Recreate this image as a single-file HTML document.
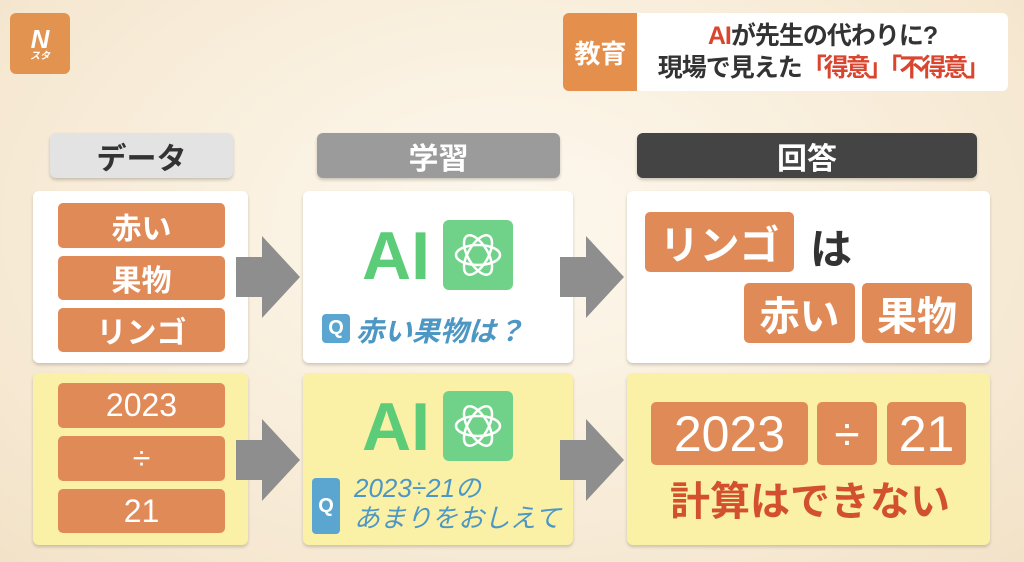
<!DOCTYPE html>
<html><head><meta charset="utf-8"><style>
*{margin:0;padding:0;box-sizing:border-box}
body{width:1024px;height:562px;overflow:hidden;position:relative;background:radial-gradient(ellipse at 50% 40%,#fdf8ee 0%,#f8ecd8 60%,#f2e2c8 100%);font-family:"Liberation Sans","Noto Sans CJK JP",sans-serif}
.a{position:absolute}
.c{display:flex;align-items:center;justify-content:center}
.hd{border-radius:6px;font-size:30px;font-weight:bold;box-shadow:0 2px 3px rgba(0,0,0,.2)}
.bx{border-radius:6px;box-shadow:0 2px 3px rgba(0,0,0,.18)}
.p{background:#e08a58;color:#fff;border-radius:5px;font-weight:bold}
.ai{color:#5ccc78;font-weight:bold;font-size:68px;line-height:1}
.ic{background:#6fd288;border-radius:6px}
.q{background:#5aa6d1;color:#fff;border-radius:4px;font-weight:bold;font-size:20px}
.qt{color:#4d97c4;font-style:italic;font-weight:bold}
</style></head><body>
<div class="a c" style="left:10px;top:13px;width:60px;height:61px;background:#e39350;border-radius:6px;color:#fff;font-weight:bold;font-style:italic;flex-direction:column;line-height:1"><span style="font-size:26px">N</span><span style="font-size:10px">スタ</span></div>
<div class="a c" style="left:563px;top:13px;width:75px;height:78px;background:#e58f4d;border-radius:6px 0 0 6px;color:#fff;font-size:26px;font-weight:bold">教育</div>
<div class="a c" style="left:637px;top:13px;width:371px;height:78px;background:#fff;border-radius:0 6px 6px 0;flex-direction:column;font-size:25px;font-weight:bold;color:#333;line-height:1.3;white-space:nowrap;letter-spacing:-1px">
<div><span style="color:#d9452e">AI</span>が先生の代わりに?</div>
<div>現場で見えた<span style="color:#d9452e;letter-spacing:-3px">「得意」「不得意」</span></div></div>

<div class="a c hd" style="left:50px;top:133px;width:183px;height:45px;background:#e3e3e3;color:#333">データ</div>
<div class="a c hd" style="left:317px;top:133px;width:243px;height:45px;background:#9b9b9b;color:#fff">学習</div>
<div class="a c hd" style="left:637px;top:133px;width:340px;height:45px;background:#444;color:#fff">回答</div>

<div class="a bx" style="left:33px;top:191px;width:215px;height:172px;background:#fff"></div>
<div class="a bx" style="left:303px;top:191px;width:270px;height:172px;background:#fff"></div>
<div class="a bx" style="left:627px;top:191px;width:363px;height:172px;background:#fff"></div>
<div class="a bx" style="left:33px;top:373px;width:215px;height:172px;background:#faf0a6"></div>
<div class="a bx" style="left:303px;top:373px;width:270px;height:172px;background:#faf0a6"></div>
<div class="a bx" style="left:627px;top:373px;width:363px;height:172px;background:#faf0a6"></div>

<div class="a ic" style="left:443px;top:220px;width:70px;height:70px"></div>
<div class="a ic" style="left:443px;top:391px;width:70px;height:70px"></div>

<svg class="a" style="left:0;top:0" width="1024" height="562">
<g fill="#8e8e8e">
<polygon points="236,257 262,257 262,236 300,277 262,318 262,297 236,297"/>
<polygon points="560,257 586,257 586,236 624,277 586,318 586,297 560,297"/>
<polygon points="236,440 262,440 262,419 300,460 262,501 262,480 236,480"/>
<polygon points="560,440 586,440 586,419 624,460 586,501 586,480 560,480"/>
</g>
<g fill="none" stroke="#fff" stroke-width="2.5">
<g transform="translate(478,255)"><ellipse rx="22" ry="10"/><ellipse rx="22" ry="10" transform="rotate(60)"/><ellipse rx="22" ry="10" transform="rotate(120)"/></g>
<g transform="translate(478,426)"><ellipse rx="22" ry="10"/><ellipse rx="22" ry="10" transform="rotate(60)"/><ellipse rx="22" ry="10" transform="rotate(120)"/></g>
</g>
</svg>

<div class="a c p" style="left:58px;top:203px;width:167px;height:45px;font-size:30px">赤い</div>
<div class="a c p" style="left:58px;top:256px;width:167px;height:44px;font-size:30px">果物</div>
<div class="a c p" style="left:58px;top:308px;width:167px;height:44px;font-size:30px">リンゴ</div>
<div class="a c p" style="left:58px;top:383px;width:167px;height:45px;font-size:32px;font-weight:normal">2023</div>
<div class="a c p" style="left:58px;top:436px;width:167px;height:45px;font-size:32px;font-weight:normal">÷</div>
<div class="a c p" style="left:58px;top:489px;width:167px;height:44px;font-size:32px;font-weight:normal">21</div>

<div class="a ai" style="left:362px;top:222px">AI</div>
<div class="a c q" style="left:322px;top:314px;width:28px;height:29px">Q</div>
<div class="a qt" style="left:356px;top:310px;font-size:28px">赤い果物は？</div>

<div class="a ai" style="left:362px;top:393px">AI</div>
<div class="a c q" style="left:312px;top:478px;width:28px;height:56px">Q</div>
<div class="a qt" style="left:354px;top:473px;font-size:26px;line-height:30px;font-weight:normal">2023÷21の<br>あまりをおしえて</div>

<div class="a c p" style="left:645px;top:212px;width:149px;height:60px;font-size:40px">リンゴ</div>
<div class="a" style="left:810px;top:216px;font-size:42px;font-weight:bold;color:#333">は</div>
<div class="a c p" style="left:744px;top:283px;width:111px;height:60px;font-size:40px">赤い</div>
<div class="a c p" style="left:862px;top:283px;width:110px;height:60px;font-size:40px">果物</div>

<div class="a c p" style="left:651px;top:402px;width:157px;height:63px;font-size:50px;font-weight:normal">2023</div>
<div class="a c p" style="left:817px;top:402px;width:60px;height:63px;font-size:46px;font-weight:normal">÷</div>
<div class="a c p" style="left:887px;top:402px;width:79px;height:63px;font-size:50px;font-weight:normal">21</div>
<div class="a c" style="left:640px;top:472px;width:340px;height:52px;font-size:40px;font-weight:bold;color:#d2502f">計算はできない</div>
</body></html>
